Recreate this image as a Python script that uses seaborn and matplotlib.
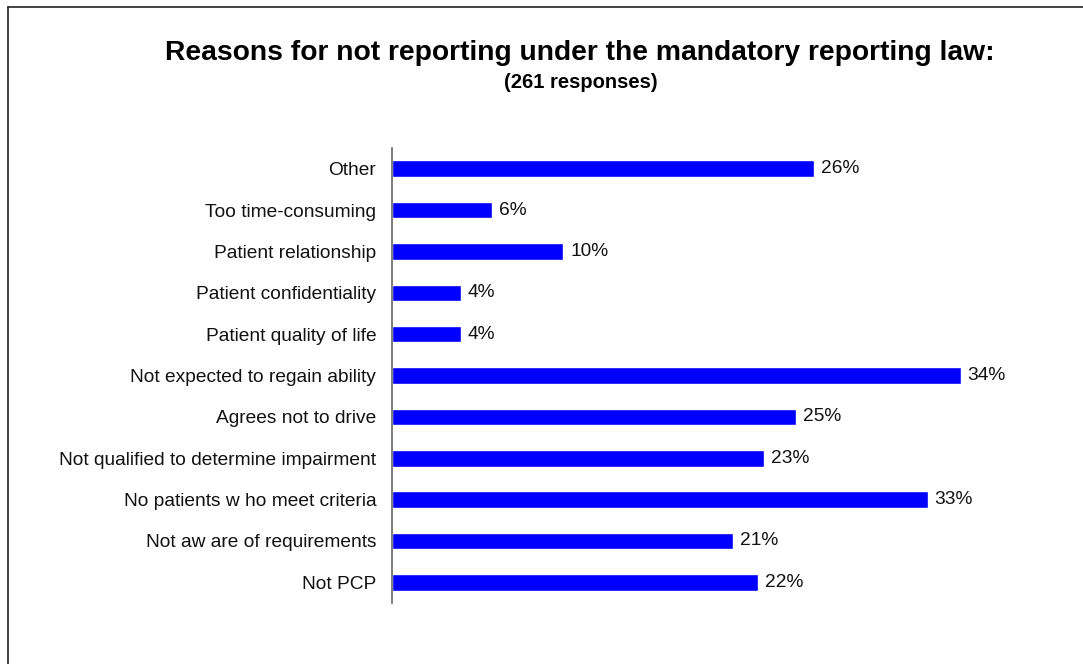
import matplotlib
matplotlib.use("Agg")
import matplotlib.pyplot as plt
import seaborn as sns
import pandas as pd
from matplotlib.lines import Line2D

categories = [
    "Other",
    "Too time-consuming",
    "Patient relationship",
    "Patient confidentiality",
    "Patient quality of life",
    "Not expected to regain ability",
    "Agrees not to drive",
    "Not qualified to determine impairment",
    "No patients w ho meet criteria",
    "Not aw are of requirements",
    "Not PCP",
]
values = [25.6, 6.1, 10.4, 4.2, 4.2, 34.5, 24.5, 22.6, 32.5, 20.7, 22.2]
labels = ["26%", "6%", "10%", "4%", "4%", "34%", "25%", "23%", "33%", "21%", "22%"]

sns.set_theme(style="white")
plt.rcParams["font.family"] = ["Liberation Sans", "DejaVu Sans"]

W, H = 1083, 664
fig = plt.figure(figsize=(W / 100, H / 100), dpi=100)
fig.patch.set_facecolor("white")

ax = fig.add_axes([391.5 / W, 61 / H, 660 / W, 455 / H])
df = pd.DataFrame({"cat": categories, "val": values})
sns.barplot(data=df, x="val", y="cat", order=categories, color="#0000FF",
            saturation=1, width=0.4, orient="h", ax=ax)

for i, (v, lab) in enumerate(zip(values, labels)):
    ax.annotate(lab, xy=(v, i), xytext=(5, 0), textcoords="offset points",
                va="center", ha="left", fontsize=13.8, color="#111111")

ax.set_xlim(0, 40)
ax.set_ylim(len(categories) - 0.5, -0.5)
ax.set_xlabel("")
ax.set_ylabel("")
ax.set_xticks([])
ax.tick_params(axis="y", length=0, pad=11, labelsize=13.8, labelcolor="#111111")
for s in ["top", "right", "bottom"]:
    ax.spines[s].set_visible(False)
ax.spines["left"].set_color("#666666")
ax.spines["left"].set_linewidth(1.2)
ax.set_facecolor("white")

fig.text(580 / W, 1 - 60 / H, "Reasons for not reporting under the mandatory reporting law:",
         ha="center", va="baseline", fontsize=20.3, fontweight="bold", color="black")
fig.text(581 / W, 1 - 88 / H, "(261 responses)",
         ha="center", va="baseline", fontsize=14.5, fontweight="bold", color="black")

# figure frame (extends past right and bottom edges)
x0 = 7.5 / W
y0 = 1 - 6.5 / H
fig.add_artist(Line2D([x0, x0], [0, y0], transform=fig.transFigure, color="#222222", lw=1.2))
fig.add_artist(Line2D([x0, 1], [y0, y0], transform=fig.transFigure, color="#222222", lw=1.2))

fig.savefig("out.png", dpi=100, facecolor="white")
